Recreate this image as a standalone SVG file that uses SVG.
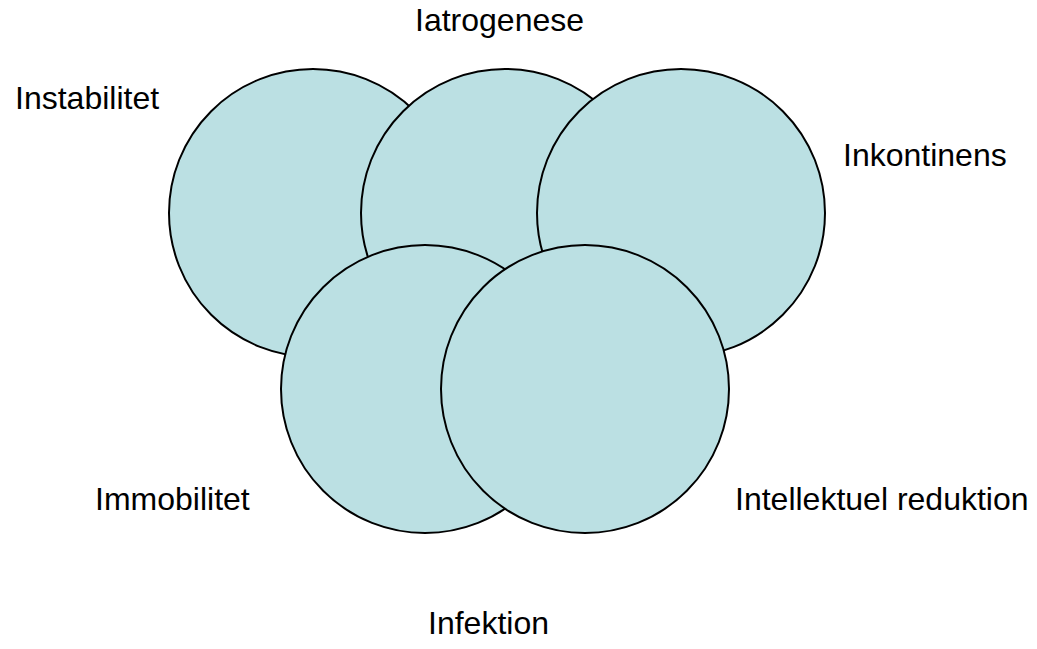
<svg xmlns="http://www.w3.org/2000/svg" width="1037" height="649" viewBox="0 0 1037 649">
<style>
.c{fill:#BBE0E3;stroke:#000;stroke-width:2}
.t{font-family:"Liberation Sans",Arial,sans-serif;font-size:32px;fill:#000}
</style>
<rect width="1037" height="649" fill="#fff"/>
<g id="circle-instabilitet"><circle class="c" cx="313" cy="213" r="144"/></g>
<g id="circle-iatrogenese"><circle class="c" cx="505" cy="213" r="144"/></g>
<g id="circle-inkontinens"><circle class="c" cx="681" cy="213" r="144"/></g>
<g id="circle-immobilitet"><circle class="c" cx="425" cy="389" r="144"/></g>
<g id="circle-intellektuel"><circle class="c" cx="585" cy="389" r="144"/></g>
<g id="labels">
<text class="t" x="415" y="31">Iatrogenese</text>
<text class="t" x="15" y="109">Instabilitet</text>
<text class="t" x="843" y="166">Inkontinens</text>
<text class="t" x="95" y="510">Immobilitet</text>
<text class="t" x="735" y="510">Intellektuel reduktion</text>
<text class="t" x="428" y="634">Infektion</text>
</g>
</svg>
